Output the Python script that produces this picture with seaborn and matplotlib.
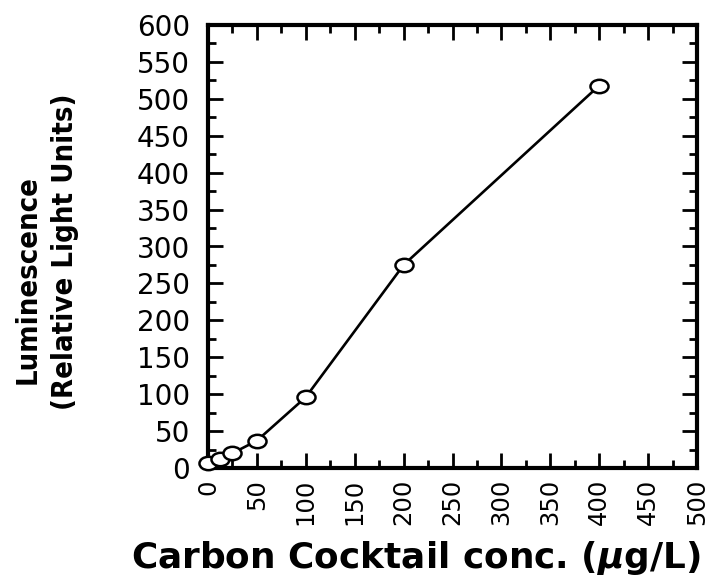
import matplotlib
matplotlib.use("Agg")
import matplotlib.pyplot as plt
from matplotlib import font_manager
from matplotlib.path import Path
from matplotlib.transforms import Affine2D
import seaborn as sns
import pandas as pd
from matplotlib.ticker import MultipleLocator

# Data
concentration = [0, 12.5, 25, 50, 100, 200, 400]
luminescence = [7, 12, 20, 37, 96, 275, 518]
x_ticks = [0, 50, 100, 150, 200, 250, 300, 350, 400, 450, 500]
y_ticks = [0, 50, 100, 150, 200, 250, 300, 350, 400, 450, 500, 550, 600]

sns.set_style("ticks")
names = sorted({f.name for f in font_manager.fontManager.ttflist})
narrow = "Liberation Sans Narrow" if "Liberation Sans Narrow" in names else "DejaVu Sans"
plt.rcParams["font.family"] = ["DejaVu Sans"]
plt.rcParams["mathtext.fontset"] = "custom"
plt.rcParams["mathtext.it"] = "DejaVu Sans:italic:bold"
plt.rcParams["mathtext.rm"] = "DejaVu Sans:bold"
for k in ["text.color", "axes.labelcolor", "xtick.color", "ytick.color", "axes.edgecolor"]:
    plt.rcParams[k] = "black"

df = pd.DataFrame({"conc": concentration, "lum": luminescence})

ellipse = Path.unit_circle().transformed(Affine2D().scale(1.35, 1.0))

fig = plt.figure(figsize=(7.15, 5.76), dpi=100)
ax = fig.add_axes([208 / 715, 1 - 468 / 576, 489 / 715, 443 / 576])

sns.lineplot(data=df, x="conc", y="lum", ax=ax, color="black", linewidth=1.9,
             marker=ellipse, markersize=13, markerfacecolor="white",
             markeredgecolor="black", markeredgewidth=1.8, clip_on=False, zorder=5)

ax.set_xlim(0, 500)
ax.set_ylim(0, 600)
ax.set_xticks(x_ticks)
ax.set_yticks(y_ticks)
ax.xaxis.set_minor_locator(MultipleLocator(25))
ax.yaxis.set_minor_locator(MultipleLocator(25))
ax.tick_params(which="both", direction="in", top=True, right=True, width=2, color="black")
ax.tick_params(which="major", length=11)
ax.tick_params(which="minor", length=6)
ax.tick_params(axis="y", which="major", labelsize=20, pad=13)
ax.tick_params(axis="x", which="major", labelsize=17.5, pad=8, labelrotation=90)
for s in ax.spines.values():
    s.set_linewidth(3)
    s.set_color("black")

ax.set_xlabel("")
ax.set_ylabel("")
fig.text(416 / 715, 1 - 568 / 576, "Carbon Cocktail conc. ($\\mathit{\\mu}$g/L)",
         fontsize=25.8, fontweight="bold", ha="center", va="baseline")
fig.text(28 / 715, 1 - 280 / 576, "Luminescence", rotation=90, ha="center", va="center",
         fontsize=21, fontweight="bold", family=narrow, fontstretch="condensed")
fig.text(65 / 715, 1 - 252 / 576, "(Relative Light Units)", rotation=90, ha="center",
         va="center", fontsize=21, fontweight="bold", family=narrow, fontstretch="condensed")

fig.savefig("out.png", dpi=100)
